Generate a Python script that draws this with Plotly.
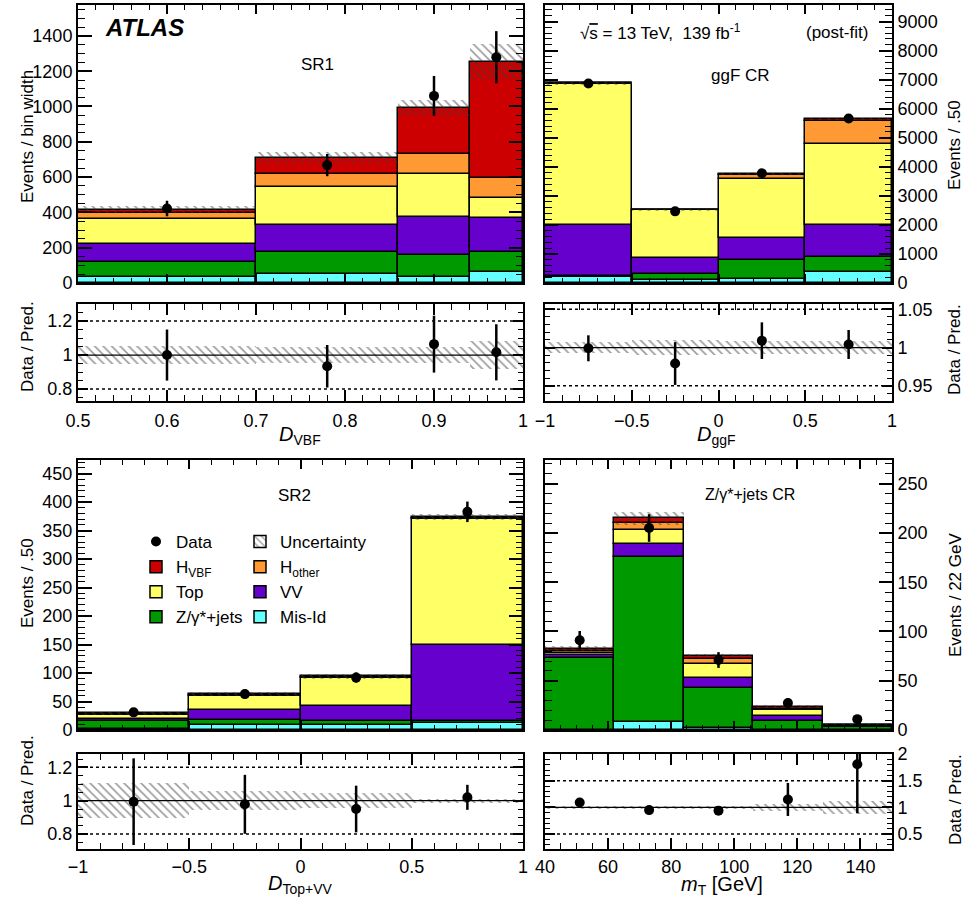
import numpy as np
import plotly.graph_objects as go

W, H = 966, 900

# ---------------- SR1 (D_VBF) ----------------
sr1_edges = [0.5, 0.7, 0.86, 0.94, 1.0]
sr1_misid = [34, 53, 34, 62]
sr1_zjets = [85, 123, 123, 114]
sr1_vv = [104, 155, 218, 195]
sr1_top = [137, 214, 240, 113]
sr1_hother = [34, 72, 115, 112]
sr1_hvbf = [22, 93, 263, 658]
sr1_unc = [21, 32, 45, 100]
sr1_data = [422, 668, 1060, 1279]
sr1_data_err = [44, 63, 113, 148]
sr1_ratio = [1.00, 0.934, 1.064, 1.016]
sr1_ratio_err = [0.15, 0.125, 0.167, 0.165]

# ---------------- ggF CR (D_ggF) ----------------
ggf_edges = [-1.0, -0.5, 0.0, 0.5, 1.0]
ggf_misid = [207, 115, 150, 380]
ggf_zjets = [46, 207, 655, 517]
ggf_vv = [1758, 552, 747, 1114]
ggf_top = [4850, 1632, 2034, 2771]
ggf_hother = [15, 10, 138, 793]
ggf_hvbf = [5, 3, 23, 69]
ggf_unc = [48, 25, 30, 45]
ggf_data = [6870, 2466, 3780, 5665]
ggf_data_err = [117, 70, 87, 106]
ggf_ratio = [0.999, 0.979, 1.009, 1.004]
ggf_ratio_err = [0.017, 0.028, 0.024, 0.019]

# ---------------- SR2 (D_Top+VV) ----------------
sr2_edges = [-1.0, -0.5, 0.0, 0.5, 1.0]
sr2_misid = [1, 8, 9, 13]
sr2_zjets = [14, 10, 6, 2]
sr2_vv = [5, 17, 28, 134]
sr2_top = [7, 25, 48, 222]
sr2_hother = [1, 2, 2, 2]
sr2_hvbf = [1, 1, 1, 1]
sr2_unc = [3, 3.5, 4.2, 4.5]
sr2_data = [31, 63, 92, 383]
sr2_data_err = [6, 8, 9, 18]
sr2_ratio = [0.994, 0.978, 0.95, 1.02]
sr2_ratio_err = [0.26, 0.177, 0.14, 0.075]

# ---------------- Z/gamma*+jets CR (mT) ----------------
zcr_edges = [40, 62, 84, 106, 128, 150]
zcr_misid = [0.3, 8.5, 2.4, 0.3, 0.1]
zcr_zjets = [73, 167.5, 40, 8.6, 2.9]
zcr_vv = [3.2, 12.5, 10.7, 5.4, 0.5]
zcr_top = [2, 14.5, 14, 5.7, 0.5]
zcr_hother = [1.8, 6.7, 4.7, 1.7, 0.7]
zcr_hvbf = [2.3, 5.3, 3.3, 1.8, 0.8]
zcr_unc = [2.5, 6.5, 2.3, 1.6, 0.7]
zcr_data = [91, 205, 71, 27.3, 11]
zcr_data_err = [9.5, 14, 8, 5, 3.3]
zcr_ratio = [1.094, 0.95, 0.94, 1.15, 1.81]
zcr_ratio_err = [0.08, 0.05, 0.08, 0.31, 0.92]

process_names = ["Mis-Id", "Z/γ*+jets", "VV", "Top", "H<sub>other</sub>", "H<sub>VBF</sub>"]
process_colors = ["#66FFFF", "#009900", "#6600CC", "#FFFF66", "#FF9933", "#CC0000"]
process_legend = ["legend2", "legend", "legend2", "legend", "legend2", "legend"]
process_rank = [4, 4, 3, 3, 2, 2]

FONT = "Liberation Sans, Arial, Helvetica, sans-serif"
HATCH = dict(shape="\\", fgcolor="#3a3a3a", size=6, solidity=0.28)

fig = go.Figure()


def px_x(x):
    return x / W


def px_y(y):
    return 1 - y / H


def add_panel(edges, comps, unc, data, data_err, ratio, ratio_err,
              xm, ym, xr, yr, legend_on):
    edges = np.array(edges, float)
    centers = (edges[:-1] + edges[1:]) / 2
    widths = np.diff(edges)
    base = np.zeros(len(centers))
    for i, vals in enumerate(comps):
        vals = np.array(vals, float)
        fig.add_trace(go.Bar(
            x=centers, y=vals, base=base, width=widths,
            marker=dict(color=process_colors[i], line=dict(color="black", width=1.5)),
            xaxis=xm, yaxis=ym, name=process_names[i],
            showlegend=legend_on, legend=process_legend[i],
            legendrank=process_rank[i], hoverinfo="skip"))
        base = base + vals
    total = base
    unc = np.array(unc, float)
    # uncertainty hatch in the main panel
    fig.add_trace(go.Bar(
        x=centers, y=2 * unc, base=total - unc, width=widths,
        marker=dict(color="rgba(0,0,0,0)", line=dict(width=0), pattern=HATCH),
        xaxis=xm, yaxis=ym, showlegend=False, hoverinfo="skip"))
    # data
    fig.add_trace(go.Scatter(
        x=centers, y=data, mode="markers",
        marker=dict(color="black", size=10),
        error_y=dict(type="data", array=data_err, thickness=2.5, width=0, color="black"),
        xaxis=xm, yaxis=ym, name="Data", showlegend=legend_on,
        legend="legend", legendrank=1, hoverinfo="skip"))
    # ratio panel: uncertainty band
    rel = unc / total
    fig.add_trace(go.Bar(
        x=centers, y=2 * rel, base=1 - rel, width=widths,
        marker=dict(color="rgba(0,0,0,0)", line=dict(width=0), pattern=HATCH),
        xaxis=xr, yaxis=yr, showlegend=False, hoverinfo="skip"))
    fig.add_trace(go.Scatter(
        x=centers, y=ratio, mode="markers",
        marker=dict(color="black", size=10),
        error_y=dict(type="data", array=ratio_err, thickness=2.5, width=0, color="black"),
        xaxis=xr, yaxis=yr, showlegend=False, hoverinfo="skip"))


add_panel(sr1_edges, [sr1_misid, sr1_zjets, sr1_vv, sr1_top, sr1_hother, sr1_hvbf],
          sr1_unc, sr1_data, sr1_data_err, sr1_ratio, sr1_ratio_err,
          "x", "y", "x2", "y2", False)
add_panel(ggf_edges, [ggf_misid, ggf_zjets, ggf_vv, ggf_top, ggf_hother, ggf_hvbf],
          ggf_unc, ggf_data, ggf_data_err, ggf_ratio, ggf_ratio_err,
          "x3", "y3", "x4", "y4", False)
add_panel(sr2_edges, [sr2_misid, sr2_zjets, sr2_vv, sr2_top, sr2_hother, sr2_hvbf],
          sr2_unc, sr2_data, sr2_data_err, sr2_ratio, sr2_ratio_err,
          "x5", "y5", "x6", "y6", True)
add_panel(zcr_edges, [zcr_misid, zcr_zjets, zcr_vv, zcr_top, zcr_hother, zcr_hvbf],
          zcr_unc, zcr_data, zcr_data_err, zcr_ratio, zcr_ratio_err,
          "x7", "y7", "x8", "y8", False)

# legend-only entry for the uncertainty
fig.add_trace(go.Bar(
    x=[None], y=[None], name="Uncertainty", xaxis="x5", yaxis="y5",
    marker=dict(color="white", line=dict(color="black", width=1.5), pattern=HATCH),
    legend="legend2", legendrank=1, showlegend=True))


def axis(domain, rng, dtick, mdtick, tlen, mlen, labels, side, anchor, standoff=0):
    return dict(domain=domain, range=rng, tickmode="linear", tick0=0, dtick=dtick,
                ticks="inside", ticklen=tlen, tickwidth=1.5, tickcolor="black",
                minor=dict(tick0=0, dtick=mdtick, ticks="inside", ticklen=mlen,
                           tickwidth=1.2, tickcolor="black", showgrid=False),
                showline=True, linecolor="black", linewidth=2, mirror="ticks",
                showgrid=False, zeroline=False, showticklabels=labels, side=side,
                anchor=anchor, automargin=False, ticklabelstandoff=standoff,
                tickfont=dict(size=18, color="black", family=FONT))


XL = [78 / W, 523 / W]
XR = [545 / W, 892 / W]
Y_TM = [px_y(283), px_y(5)]
Y_TR = [px_y(401), px_y(304)]
Y_BM = [px_y(730), px_y(460)]
Y_BR = [px_y(849), px_y(754)]

layout_axes = dict(
    xaxis=axis(XL, [0.5, 1.0], 0.1, 0.02, 9, 5, False, "bottom", "y"),
    yaxis=axis(Y_TM, [0, 1575], 200, 50, 14, 7, True, "left", "x"),
    xaxis2=axis(XL, [0.5, 1.0], 0.1, 0.02, 11, 6, True, "bottom", "y2", 2),
    yaxis2=axis(Y_TR, [0.73, 1.3], 0.2, 0.05, 10, 5, True, "left", "x2"),
    xaxis3=axis(XR, [-1, 1], 0.5, 0.1, 9, 5, False, "bottom", "y3"),
    yaxis3=axis(Y_TM, [0, 9570], 1000, 200, 13, 7, True, "right", "x3"),
    xaxis4=axis(XR, [-1, 1], 0.5, 0.1, 11, 6, True, "bottom", "y4", 2),
    yaxis4=axis(Y_TR, [0.93, 1.057], 0.05, 0.01, 10, 5, True, "right", "x4"),
    xaxis5=axis(XL, [-1, 1], 0.5, 0.1, 9, 5, False, "bottom", "y5"),
    yaxis5=axis(Y_BM, [0, 474], 50, 10, 14, 7, True, "left", "x5"),
    xaxis6=axis(XL, [-1, 1], 0.5, 0.1, 11, 6, True, "bottom", "y6", 0),
    yaxis6=axis(Y_BR, [0.71, 1.28], 0.2, 0.05, 10, 5, True, "left", "x6"),
    xaxis7=axis(XR, [40, 150], 20, 5, 9, 5, False, "bottom", "y7"),
    yaxis7=axis(Y_BM, [0, 274], 50, 10, 13, 7, True, "right", "x7"),
    xaxis8=axis(XR, [40, 150], 20, 5, 11, 6, True, "bottom", "y8", 0),
    yaxis8=axis(Y_BR, [0.22, 2.003], 0.5, 0.1, 10, 5, True, "right", "x8"),
)

# reference lines in ratio panels
shapes = []
for xr, yr, lo, hi in [("x2", "y2", 0.8, 1.2), ("x4", "y4", 0.95, 1.05),
                       ("x6", "y6", 0.8, 1.2), ("x8", "y8", 0.5, 1.5)]:
    for v in (lo, hi):
        shapes.append(dict(type="line", xref=xr + " domain", yref=yr, x0=0, x1=1, y0=v, y1=v,
                           line=dict(color="black", width=1.5, dash="dot"), layer="below"))
    shapes.append(dict(type="line", xref=xr + " domain", yref=yr, x0=0, x1=1, y0=1, y1=1,
                       line=dict(color="black", width=1.3), layer="above"))


def ann(text, x, y, size, angle=0, xanchor="center"):
    return dict(text=text, x=px_x(x), y=px_y(y), xref="paper", yref="paper",
                showarrow=False, xanchor=xanchor, yanchor="middle", textangle=angle,
                font=dict(size=size, color="black", family=FONT))


annotations = [
    ann("<b><i>ATLAS</i></b>", 144, 28, 24),
    ann("SR1", 317, 65, 17),
    ann("√<span style=\"text-decoration:overline\">s</span> = 13 TeV,  139 fb<sup>-1</sup>", 660, 32, 17),
    ann("(post-fit)", 837, 33, 17),
    ann("ggF CR", 740, 76, 17),
    ann("SR2", 294, 495, 17),
    ann("Z/γ*+jets CR", 750, 494, 16),
    ann("Events / bin width", 27, 137, 17, -90),
    ann("Data / Pred.", 27, 347, 17, -90),
    ann("Events / .50", 27, 583, 17, -90),
    ann("Data / Pred.", 27, 781, 17, -90),
    ann("Events / .50", 955, 145, 17, -90),
    ann("Data / Pred.", 955, 350, 17, -90),
    ann("Events / 22 GeV", 955, 595, 17, -90),
    ann("Data / Pred.", 955, 800, 17, -90),
    ann("<i>D</i><sub>VBF</sub>", 300, 435, 20),
    ann("<i>D</i><sub>ggF</sub>", 716, 435, 20),
    ann("<i>D</i><sub>Top+VV</sub>", 300, 884, 20),
    ann("<i>m</i><sub>T</sub> [GeV]", 722, 885, 20),
]

leg_common = dict(yanchor="top", xanchor="left", bgcolor="rgba(0,0,0,0)",
                  borderwidth=0, traceorder="normal",
                  font=dict(size=17, color="black", family=FONT))

fig.update_layout(
    width=W, height=H, autosize=False,
    margin=dict(l=0, r=0, t=0, b=0, pad=0, autoexpand=False),
    paper_bgcolor="white", plot_bgcolor="white",
    barmode="overlay", bargap=0,
    font=dict(family=FONT, color="black"),
    shapes=shapes, annotations=annotations,
    legend=dict(x=px_x(136), y=px_y(524), **leg_common),
    legend2=dict(x=px_x(240), y=px_y(524), **leg_common),
    **layout_axes,
)

fig.write_html("out.html", config={"displayModeBar": False},
               post_script="document.body.style.margin='0px';")
